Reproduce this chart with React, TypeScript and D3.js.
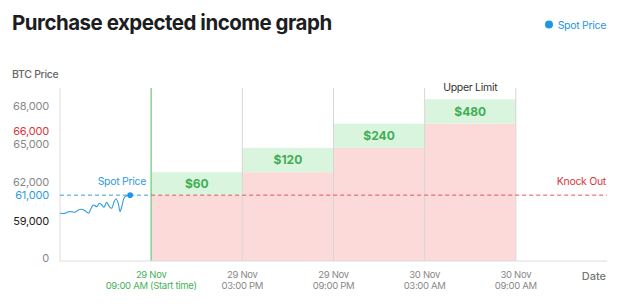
import React from "react";
import * as d3 from "d3";

// ---- data ----
const startTime = new Date(2023, 10, 29, 3, 0);
const endTime = new Date(2023, 10, 30, 15, 0);
const periodTimes = [
  new Date(2023, 10, 29, 9, 0),
  new Date(2023, 10, 29, 15, 0),
  new Date(2023, 10, 29, 21, 0),
  new Date(2023, 10, 30, 3, 0),
  new Date(2023, 10, 30, 9, 0),
];
const xLabelsTop = ["29 Nov", "29 Nov", "29 Nov", "30 Nov", "30 Nov"];
const xLabelsBottom = ["09:00 AM (Start time)", "03:00 PM", "09:00 PM", "03:00 AM", "09:00 AM"];
const stepLevels = [61000, 62800, 64700, 66600, 68500];
const incomeLabels = ["$60", "$120", "$240", "$480"];
const yTicks = [0, 59000, 61000, 62000, 65000, 66000, 68000];
const yTickColors = ["#888", "#222", "#2f9be0", "#888", "#888", "#d9363e", "#888"];
const knockOut = 61000;
const spotPrice = 61000;
// minutes past 29 Nov 03:00
const spotMinutes = [0, 20, 33, 46, 59, 72, 86, 99, 112, 121, 131, 145, 155, 165, 174, 184, 195, 204, 213, 221, 230, 237, 244, 253, 263, 277];
const spotPrices = [59580, 59580, 59700, 59700, 59660, 59840, 59890, 59780, 59580, 59890, 60230, 60100, 60360, 60230, 60050, 60440, 60100, 59980, 60450, 60720, 60360, 59720, 60100, 60780, 60950, 61000];

export default function App() {
  const W = 622, H = 308;
  const left = 60, right = 607, top = 88, bottom = 261;
  const x = d3.scaleTime().domain([startTime, endTime]).range([left, right]);
  const y = d3.scaleLinear().domain([0, 59000, 68000]).range([bottom, 220.7, 105.7]);
  const font = "Inter, 'Noto Sans', sans-serif";

  const spotData = spotMinutes.map((m, i) => ({
    t: new Date(startTime.getTime() + m * 60000),
    v: spotPrices[i],
  }));
  const line = d3
    .line<{ t: Date; v: number }>()
    .x((d) => x(d.t))
    .y((d) => y(d.v))
    .curve(d3.curveCatmullRom.alpha(0.5));
  const last = spotData[spotData.length - 1];

  return (
    <svg width={W} height={H} style={{ display: "block", position: "absolute", left: 0, top: 0 }} fontFamily={font}>
      <rect width={W} height={H} fill="#fff" />
      <text x={12} y={30} fontSize={20.5} fontWeight={700} fill="#1d1d1f" letterSpacing={-0.5}>
        Purchase expected income graph
      </text>
      <circle cx={549} cy={24.5} r={4} fill="#1e96e8" />
      <text x={606} y={28.5} textAnchor="end" fontSize={10.5} fill="#1e96e8" letterSpacing={-0.3}>Spot Price</text>

      <text x={12} y={78} fontSize={10.5} fontWeight={500} fill="#666" letterSpacing={-0.3}>BTC Price</text>

      {/* bars */}
      {incomeLabels.map((lab, i) => {
        const x0 = x(periodTimes[i]);
        const x1 = x(periodTimes[i + 1]);
        const redTop = y(stepLevels[i]);
        const greenTop = y(stepLevels[i + 1]);
        return (
          <g key={lab}>
            <rect x={x0} y={redTop} width={x1 - x0} height={bottom - redTop} fill="#fcdada" />
            <rect x={x0} y={greenTop} width={x1 - x0} height={redTop - greenTop} fill="#daf5dd" />
            <text x={(x0 + x1) / 2} y={(greenTop + redTop) / 2} dy="0.36em" textAnchor="middle" fontSize={12} fontWeight={700} fill="#3fae55">
              {lab}
            </text>
          </g>
        );
      })}

      {/* axes / grid */}
      <line x1={left} x2={left} y1={top} y2={bottom} stroke="#dcdcdc" />
      {periodTimes.slice(1).map((t, i) => (
        <line key={i} x1={x(t)} x2={x(t)} y1={top} y2={bottom} stroke="#d6d6d6" />
      ))}
      <line x1={x(periodTimes[0])} x2={x(periodTimes[0])} y1={top} y2={bottom} stroke="#86d394" strokeWidth={1.5} />
      <line x1={left} x2={right} y1={bottom} y2={bottom} stroke="#dcdcdc" />

      {/* knock out / spot lines */}
      <line x1={x(periodTimes[0])} x2={right} y1={y(knockOut)} y2={y(knockOut)} stroke="#e0545a" strokeDasharray="4,3" />
      <line x1={left} x2={x(periodTimes[0])} y1={y(spotPrice)} y2={y(spotPrice)} stroke="#3a9de0" strokeDasharray="4,3" />
      <text x={right - 1} y={y(knockOut) - 10} textAnchor="end" fontSize={10.5} fill="#d9363e" letterSpacing={-0.3}>Knock Out</text>

      <path d={line(spotData) || ""} fill="none" stroke="#2f9be0" strokeWidth={1.1} />
      <circle cx={x(last.t)} cy={y(last.v)} r={2.8} fill="#1e96e8" />
      <text x={146} y={y(spotPrice) - 10} textAnchor="end" fontSize={10.5} fill="#2f9be0" letterSpacing={-0.3}>Spot Price</text>

      <text x={(x(periodTimes[3]) + x(periodTimes[4])) / 2} y={91} textAnchor="middle" fontSize={10.5} fill="#333" letterSpacing={-0.3}>Upper Limit</text>

      {/* y ticks */}
      {yTicks.map((v, i) => (
        <text key={v} x={49} y={y(v) - (v === 0 ? 3 : 0)} dy="0.35em" textAnchor="end" fontSize={11} fill={yTickColors[i]} letterSpacing={-0.2}>
          {d3.format(",")(v)}
        </text>
      ))}

      {/* x ticks */}
      {periodTimes.map((t, i) => (
        <g key={i} fill={i === 0 ? "#45b25a" : "#888"} fontSize={9.5} textAnchor="middle">
          <text x={x(t)} y={278} letterSpacing={-0.3}>{xLabelsTop[i]}</text>
          <text x={x(t)} y={289} letterSpacing={-0.3}>{xLabelsBottom[i]}</text>
        </g>
      ))}
      <text x={606} y={280} textAnchor="end" fontSize={11} fontWeight={500} fill="#777">Date</text>
    </svg>
  );
}
